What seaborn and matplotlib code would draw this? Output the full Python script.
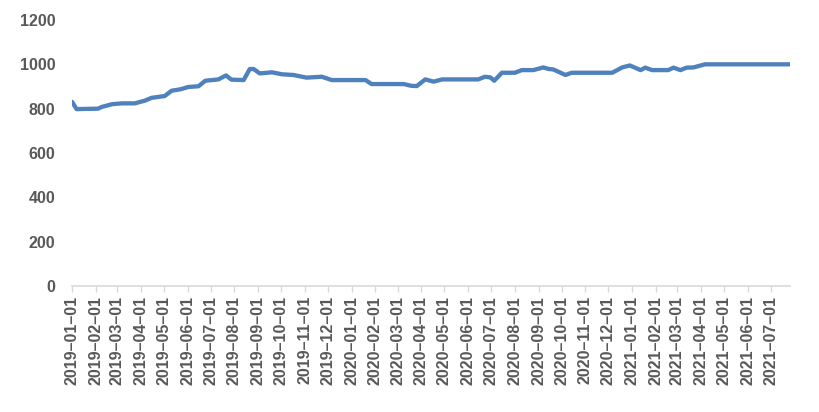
import matplotlib
matplotlib.use("Agg")
import matplotlib.pyplot as plt
import seaborn as sns
import pandas as pd

# data
dates = [
    "2019-01-01", "2019-01-07", "2019-02-04", "2019-02-09", "2019-02-22", "2019-03-07",
    "2019-03-24", "2019-04-06", "2019-04-15", "2019-05-02", "2019-05-11", "2019-05-22",
    "2019-06-02", "2019-06-15", "2019-06-24", "2019-07-11", "2019-07-21", "2019-07-28",
    "2019-08-13", "2019-08-21", "2019-08-26", "2019-09-03", "2019-09-19", "2019-10-02",
    "2019-10-17", "2019-11-03", "2019-11-23", "2019-12-06", "2020-01-19", "2020-01-27",
    "2020-03-09", "2020-03-19", "2020-03-26", "2020-04-06", "2020-04-17", "2020-04-28",
    "2020-06-14", "2020-06-23", "2020-06-30", "2020-07-05", "2020-07-15", "2020-08-01",
    "2020-08-10", "2020-08-25", "2020-09-07", "2020-09-14", "2020-09-20", "2020-10-06",
    "2020-10-14", "2020-12-06", "2020-12-19", "2020-12-29", "2021-01-12", "2021-01-18",
    "2021-01-27", "2021-02-17", "2021-02-24", "2021-03-05", "2021-03-13", "2021-03-22",
    "2021-04-06", "2021-07-26",
]
values = [
    831, 798, 800, 808, 820, 824,
    824, 836, 849, 857, 881, 887,
    898, 901, 926, 932, 950, 931,
    929, 979, 979, 959, 964, 955,
    952, 940, 944, 929, 929, 911,
    911, 903, 902, 932, 922, 932,
    932, 944, 941, 926, 962, 962,
    974, 974, 986, 979, 977, 952,
    962, 962, 986, 995, 974, 985,
    974, 974, 985, 974, 985, 986,
    1000, 1000,
]
tick_labels = [
    "2019–01–01", "2019–02–01", "2019–03–01", "2019–04–01", "2019–05–01", "2019–06–01",
    "2019–07–01", "2019–08–01", "2019–09–01", "2019–10–01", "2019–11–01", "2019–12–01",
    "2020–01–01", "2020–02–01", "2020–03–01", "2020–04–01", "2020–05–01", "2020–06–01",
    "2020–07–01", "2020–08–01", "2020–09–01", "2020–10–01", "2020–11–01", "2020–12–01",
    "2021–01–01", "2021–02–01", "2021–03–01", "2021–04–01", "2021–05–01", "2021–06–01",
    "2021–07–01",
]
y_ticks = [0, 200, 400, 600, 800, 1000, 1200]

sns.set_theme(style="white")
plt.rcParams["font.family"] = ["Liberation Sans", "DejaVu Sans"]

df = pd.DataFrame({"date": pd.to_datetime(dates), "value": values})

fig = plt.figure(figsize=(8.19, 4.12), dpi=100)
ax = fig.add_axes([72 / 819, 1 - 286 / 412, (790 - 72) / 819, (286 - 20) / 412])

sns.lineplot(data=df, x="date", y="value", ax=ax, color="#4f81bd", linewidth=3.1)

tick_pos = pd.to_datetime([t.replace("–", "-") for t in tick_labels])
ax.set_xticks(tick_pos)
ax.set_xticklabels(tick_labels, rotation=90, fontsize=11.5, fontweight="bold", color="#595959")
ax.set_xlim(pd.Timestamp("2019-01-01"), pd.Timestamp("2021-07-26"))

ax.set_ylim(0, 1200)
ax.set_yticks(y_ticks)
ax.set_yticklabels([str(v) for v in y_ticks], fontsize=11.5, fontweight="bold", color="#595959")

ax.set_xlabel("")
ax.set_ylabel("")
for s in ["top", "right", "left"]:
    ax.spines[s].set_visible(False)
ax.spines["bottom"].set_color("#d9d9d9")
ax.spines["bottom"].set_linewidth(1.2)
ax.tick_params(axis="x", which="major", bottom=True, length=4, width=1, color="#d9d9d9", pad=3)
ax.tick_params(axis="y", left=False, pad=6)
ax.grid(False)

fig.savefig("out.png", dpi=100)
